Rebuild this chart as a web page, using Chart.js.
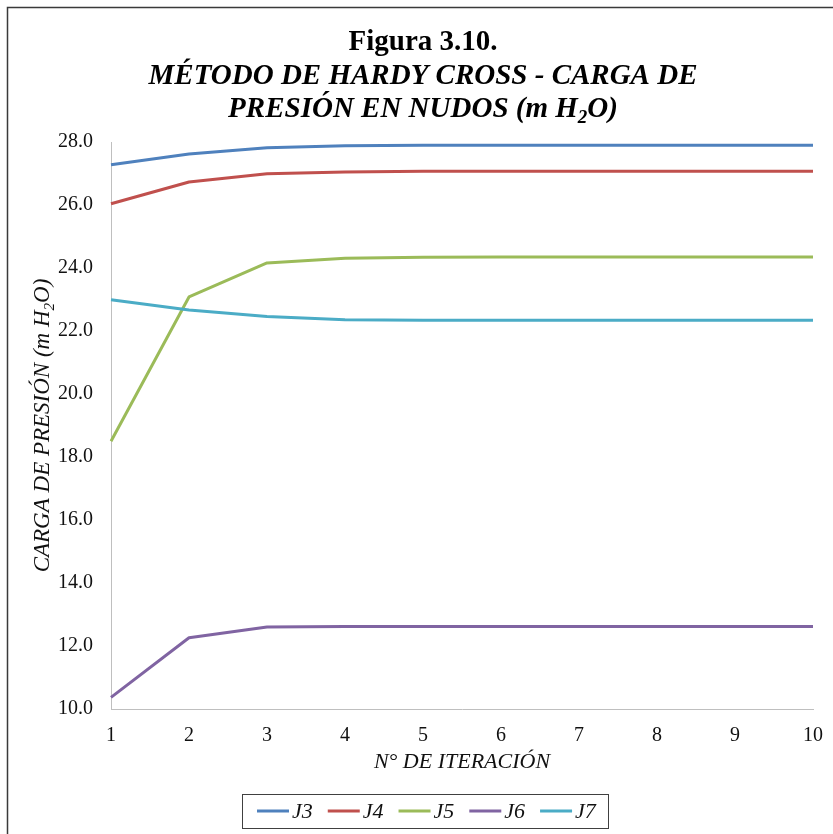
<!DOCTYPE html>
<html><head><meta charset="utf-8">
<script src="https://cdn.jsdelivr.net/npm/chart.js@4.4.0/dist/chart.umd.min.js"></script>
<style>html,body{margin:0;padding:0;background:#fff;}canvas{display:block;}</style>
</head><body>
<canvas id="c" width="833" height="834"></canvas>
<script>
// ---- data ----
const iterations = ['1','2','3','4','5','6','7','8','9','10'];
const seriesNames = ['J3','J4','J5','J6','J7'];
const seriesColors = ['#4F81BD','#C0504D','#9BBB59','#8064A2','#4BACC6'];
const J3 = [27.28, 27.62, 27.82, 27.88, 27.90, 27.90, 27.90, 27.90, 27.90, 27.90];
const J4 = [26.04, 26.73, 26.99, 27.05, 27.07, 27.07, 27.07, 27.07, 27.07, 27.07];
const J5 = [18.50, 23.08, 24.16, 24.31, 24.34, 24.35, 24.35, 24.35, 24.35, 24.35];
const J6 = [10.37, 12.26, 12.60, 12.62, 12.62, 12.62, 12.62, 12.62, 12.62, 12.62];
const J7 = [22.99, 22.67, 22.46, 22.36, 22.34, 22.34, 22.34, 22.34, 22.34, 22.34];
const seriesValues = [J3, J4, J5, J6, J7];
const yMin = 10, yMax = 28, yStep = 2;
const titleLine1 = 'Figura 3.10.';
const titleLine2 = 'MÉTODO DE HARDY CROSS - CARGA DE';
const titleLine3 = ['PRESIÓN EN NUDOS (m H', '2', 'O)'];
const yTitle = ['CARGA DE PRESIÓN (m H', '2', 'O)'];
const xTitle = 'N° DE ITERACIÓN';

const SERIF = '"Liberation Serif", "Times New Roman", serif';
const TXT = '#111';

function drawRich(ctx, segs, cx, y) {
  let total = 0;
  segs.forEach(s => { ctx.font = s.font; s.w = ctx.measureText(s.t).width; total += s.w; });
  let x = cx - total / 2;
  ctx.textAlign = 'left';
  segs.forEach(s => { ctx.font = s.font; ctx.fillText(s.t, x, y + (s.dy || 0)); x += s.w; });
}

const decor = {
  id: 'decor',
  afterDraw(chart) {
    const ctx = chart.ctx;
    const ca = chart.chartArea;
    ctx.save();
    // frame
    ctx.strokeStyle = '#3a3a3a';
    ctx.lineWidth = 1.5;
    ctx.beginPath();
    ctx.moveTo(7.5, 834); ctx.lineTo(7.5, 7.5); ctx.lineTo(833, 7.5);
    ctx.stroke();
    ctx.fillStyle = '#000';
    ctx.textBaseline = 'alphabetic';
    // title
    drawRich(ctx, [{t: titleLine1, font: 'bold 29px ' + SERIF}], 423, 50);
    drawRich(ctx, [{t: titleLine2, font: 'italic bold 29px ' + SERIF}], 423, 84);
    drawRich(ctx, [
      {t: titleLine3[0], font: 'italic bold 29px ' + SERIF},
      {t: titleLine3[1], font: 'italic bold 19px ' + SERIF, dy: 6},
      {t: titleLine3[2], font: 'italic bold 29px ' + SERIF}
    ], 423, 117);
    // y title
    ctx.fillStyle = TXT;
    ctx.save();
    ctx.translate(49, (ca.top + ca.bottom) / 2);
    ctx.rotate(-Math.PI / 2);
    drawRich(ctx, [
      {t: yTitle[0], font: 'italic 23px ' + SERIF},
      {t: yTitle[1], font: 'italic 15px ' + SERIF, dy: 5},
      {t: yTitle[2], font: 'italic 23px ' + SERIF}
    ], 0, 0);
    ctx.restore();
    // x title
    ctx.textBaseline = 'middle';
    drawRich(ctx, [{t: xTitle, font: 'italic 22px ' + SERIF}], (ca.left + ca.right) / 2, 762);
    // legend
    ctx.strokeStyle = '#404040';
    ctx.lineWidth = 1;
    ctx.strokeRect(242.5, 794.5, 366, 34);
    let x = 257;
    const ly = 811;
    chart.data.datasets.forEach(ds => {
      ctx.strokeStyle = ds.borderColor;
      ctx.lineWidth = 3;
      ctx.beginPath(); ctx.moveTo(x, ly); ctx.lineTo(x + 32, ly); ctx.stroke();
      x += 35;
      ctx.font = 'italic 22px ' + SERIF;
      ctx.fillStyle = TXT;
      ctx.textAlign = 'left';
      ctx.fillText(ds.label, x, ly + 1);
      x += ctx.measureText(ds.label).width + 15;
    });
    ctx.restore();
  }
};

const datasets = seriesNames.map((name, i) => ({
  label: name,
  data: seriesValues[i],
  borderColor: seriesColors[i],
  backgroundColor: seriesColors[i],
  borderWidth: 3,
  pointRadius: 0,
  tension: 0,
  fill: false,
  borderJoinStyle: 'round',
  order: seriesNames.length - i
}));

new Chart(document.getElementById('c'), {
  type: 'line',
  data: { labels: iterations, datasets },
  options: {
    responsive: false,
    animation: false,
    devicePixelRatio: 1,
    layout: { padding: { left: 0, right: 20, top: 142, bottom: 0 } },
    plugins: { legend: { display: false }, title: { display: false }, tooltip: { enabled: false } },
    scales: {
      x: {
        type: 'category',
        offset: false,
        grid: { display: false },
        border: { display: true, color: '#BFBFBF', width: 1 },
        ticks: { font: { family: SERIF, size: 20 }, color: TXT, padding: 7, maxRotation: 0, autoSkip: false },
        afterFit(s) { s.height = 125; }
      },
      y: {
        min: yMin, max: yMax,
        grid: { display: false },
        border: { display: true, color: '#BFBFBF', width: 1 },
        ticks: { stepSize: yStep, callback: v => Number(v).toFixed(1), font: { family: SERIF, size: 20 }, color: TXT, padding: 10 },
        afterFit(s) { s.width = 111; }
      }
    }
  },
  plugins: [decor]
});
</script>
</body></html>
